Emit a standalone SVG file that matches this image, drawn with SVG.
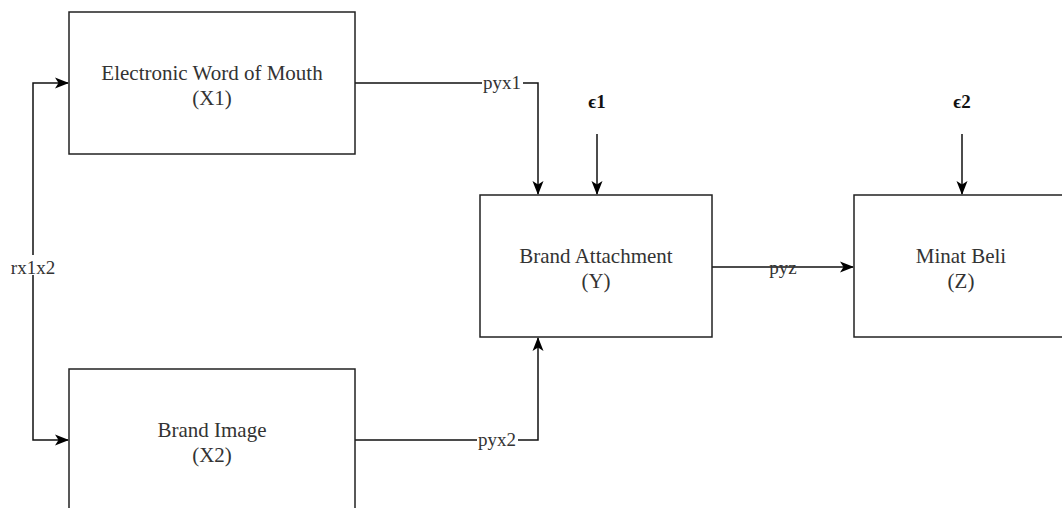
<svg xmlns="http://www.w3.org/2000/svg" width="1062" height="508" viewBox="0 0 1062 508">
<style>
.box{fill:#fff;stroke:#222;stroke-width:1.5}
.t{font-family:"Liberation Serif","Times New Roman",serif;font-size:21px;fill:#333;text-anchor:middle}
.lbl{font-family:"Liberation Serif","Times New Roman",serif;font-size:19px;fill:#333;text-anchor:middle}
.eps{font-family:"Liberation Serif","DejaVu Serif",serif;font-size:19px;font-weight:bold;fill:#111;text-anchor:middle}
.c{fill:none;stroke:#111;stroke-width:1.5}
</style>
<defs>
<marker id="arr" viewBox="0 0 14 14" refX="13" refY="7" markerWidth="14" markerHeight="14" markerUnits="userSpaceOnUse" orient="auto">
<path d="M0,1.5 L14,7 L0,12.5 L3.5,7 Z" fill="#000"/>
</marker>
</defs>
<rect width="1062" height="508" fill="#fff"/>
<g id="connectors">
<path class="c" d="M33,268 V83 H68" marker-end="url(#arr)"/>
<path class="c" d="M33,268 V440 H68" marker-end="url(#arr)"/>
<path class="c" d="M355,83 H538 V194" marker-end="url(#arr)"/>
<path class="c" d="M355,440 H538 V338" marker-end="url(#arr)"/>
<path class="c" d="M712,267 H853" marker-end="url(#arr)"/>
<path class="c" d="M597,134 V194" marker-end="url(#arr)"/>
<path class="c" d="M962,134 V194" marker-end="url(#arr)"/>
<rect x="10" y="255" width="46" height="20" fill="#fff"/>
<rect x="482" y="73" width="41" height="20" fill="#fff"/>
<rect x="477" y="430" width="41" height="20" fill="#fff"/>
<text class="lbl" x="33" y="274">rx1x2</text>
<text class="lbl" x="502" y="89">pyx1</text>
<text class="lbl" x="497" y="446">pyx2</text>
<text class="lbl" x="783" y="274">pyz</text>
</g>
<g id="e1"><text class="eps" x="597" y="108">ϵ1</text></g>
<g id="e2"><text class="eps" x="962" y="108">ϵ2</text></g>
<g id="x1">
<rect class="box" x="69" y="12" width="286" height="142"/>
<text class="t" x="212" y="80">Electronic Word of Mouth</text>
<text class="t" x="212" y="105">(X1)</text>
</g>
<g id="x2">
<rect class="box" x="69" y="369" width="286" height="142"/>
<text class="t" x="212" y="437">Brand Image</text>
<text class="t" x="212" y="462">(X2)</text>
</g>
<g id="y">
<rect class="box" x="480" y="195" width="232" height="142"/>
<text class="t" x="596" y="263">Brand Attachment</text>
<text class="t" x="596" y="288">(Y)</text>
</g>
<g id="z">
<rect class="box" x="854" y="195" width="214" height="142"/>
<text class="t" x="961" y="263">Minat Beli</text>
<text class="t" x="961" y="288">(Z)</text>
</g>
</svg>
